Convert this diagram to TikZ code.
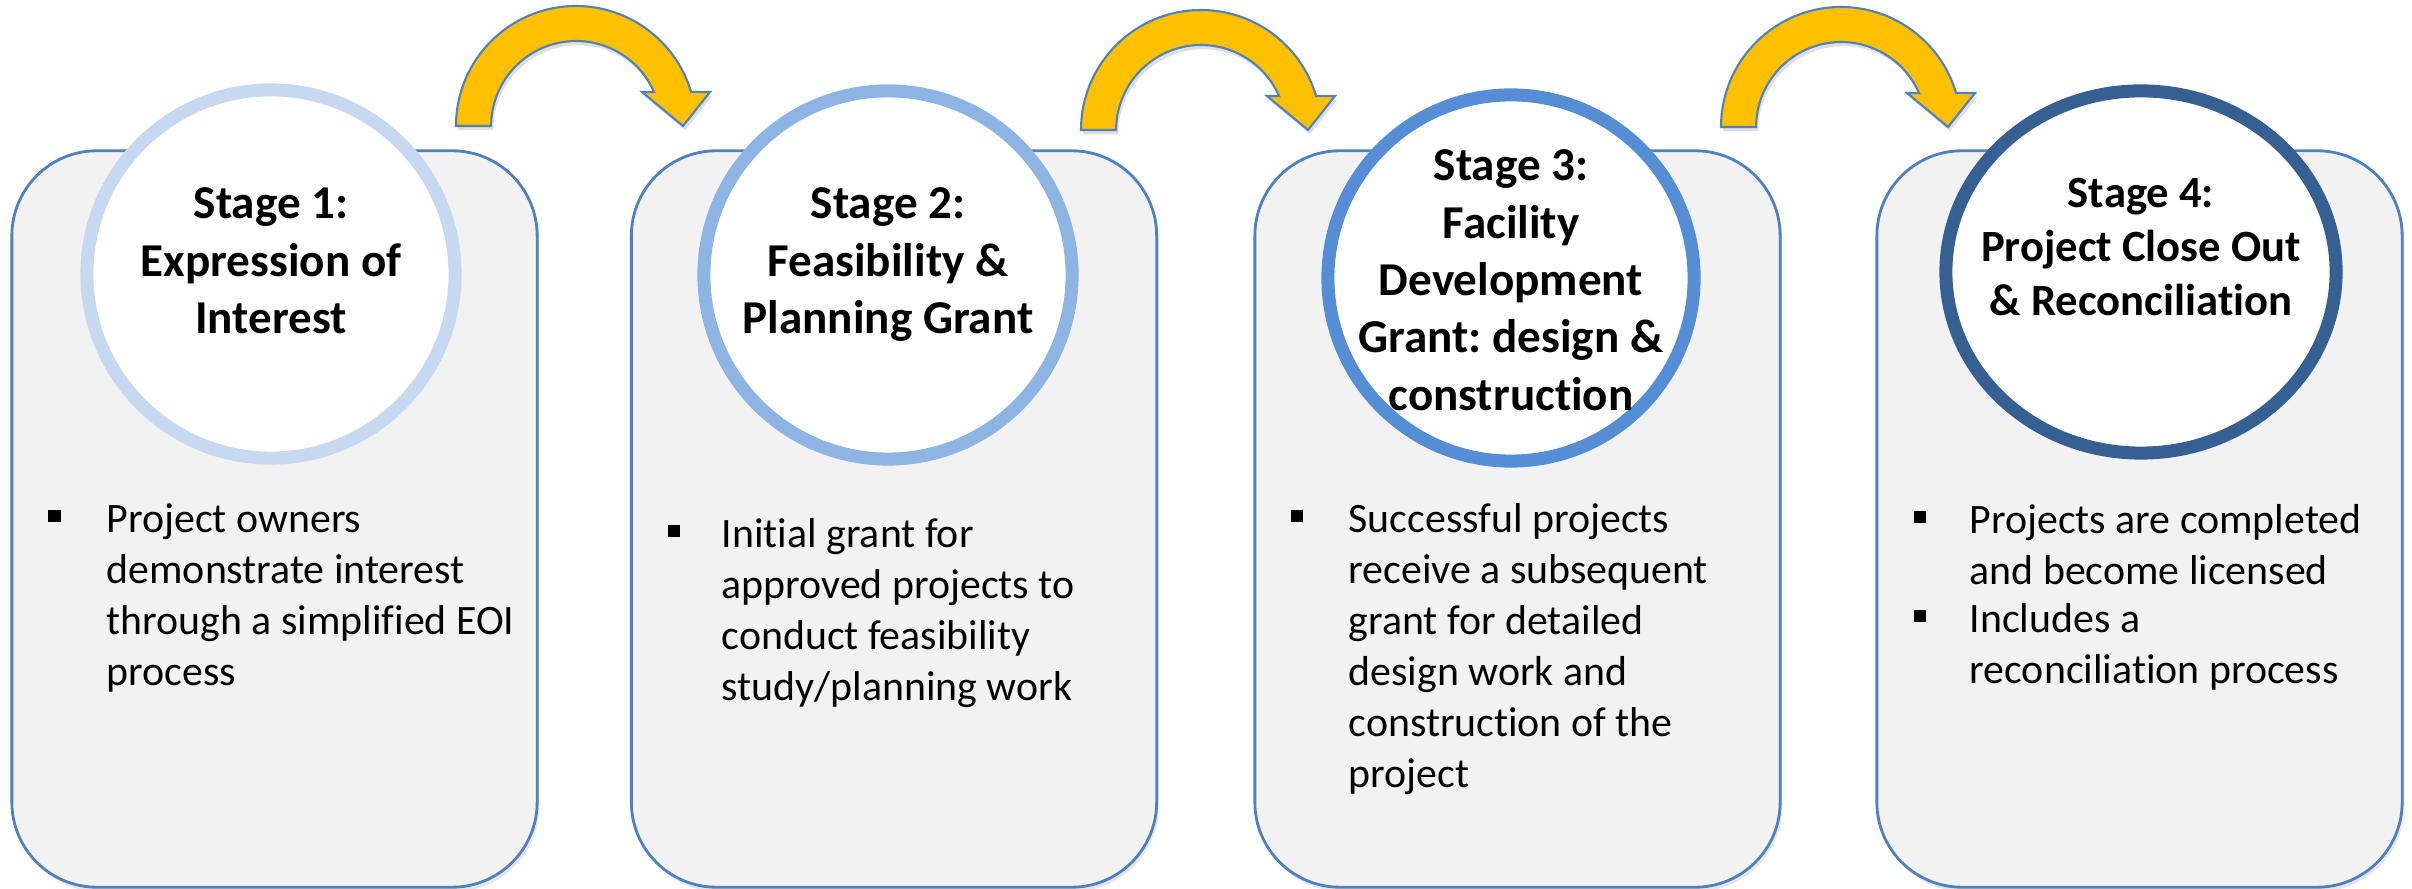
\documentclass[tikz,border=0pt]{standalone}
\usepackage{fontspec}
\setmainfont{Carlito}[Ligatures=NoCommon]
\usepackage{xcolor}
\usetikzlibrary{shapes.geometric, shadows}
\frenchspacing

\definecolor{boxfill}{HTML}{F2F2F2}
\definecolor{boxline}{HTML}{4F81BD}
\definecolor{ringone}{HTML}{C6D9F1}
\definecolor{ringtwo}{HTML}{8EB4E3}
\definecolor{ringthree}{HTML}{558ED5}
\definecolor{ringfour}{HTML}{376092}
\definecolor{hopfill}{HTML}{FFC000}

\begin{document}
\begin{tikzpicture}[x=0.01cm, y=-0.01cm]

\tikzstyle{stagebox} = [rectangle, rounded corners=0.85cm, minimum width=5.25cm, minimum height=7.36cm, draw=boxline, line width=0.8pt, fill=boxfill, drop shadow={shadow xshift=0.6pt, shadow yshift=-1.2pt, opacity=0.2}]
\tikzstyle{ring} = [circle, fill=white, line width=3.7pt, minimum size=3.68cm, inner sep=0pt, drop shadow={shadow xshift=0.8pt, shadow yshift=-1.5pt, opacity=0.2}]
\tikzstyle{title} = [align=center, inner sep=0pt, anchor=north, font=\bfseries\fontsize{13.4}{16.3}\selectfont]
\tikzstyle{body} = [align=left, inner sep=0pt, anchor=north west, font=\fontsize{11.9}{14.5}\selectfont]
\tikzstyle{bullet} = [rectangle, fill=black, minimum size=0.12cm, inner sep=0pt]
\tikzstyle{hop} = [fill=hopfill, draw=boxline, line width=0.6pt, drop shadow={shadow xshift=0.6pt, shadow yshift=-1.2pt, opacity=0.25}]

\tikzset{pics/hoparrow/.style={code={
  \draw[hop] (0,0) arc[start angle=180, end angle=343.5, radius=120] -- (254,-34) -- (227,0) -- (186,-34) -- (198,-34) arc[start angle=336.4, end angle=180, radius=85] -- cycle;
}}}

\useasboundingbox (0,0) rectangle (2412,889);

% Boxes
\node (box1) [stagebox] at (274.5,519) {};
\node (box2) [stagebox] at (894,519) {};
\node (box3) [stagebox] at (1517.5,519) {};
\node (box4) [stagebox] at (2139.5,519) {};

% Rings
\node (ring1) [ring, draw=ringone] at (271,274) {};
\node (ring2) [ring, draw=ringtwo] at (888,275) {};
\node (ring3) [ring, draw=ringthree, minimum size=3.66cm] at (1511,278) {};
\node (ring4) [ring, ellipse, draw=ringfour, minimum width=3.90cm, minimum height=3.62cm] at (2141,272) {};

% Arrows
\pic (hop1) at (456,126) {hoparrow};
\pic (hop2) at (1081,130) {hoparrow};
\pic (hop3) at (1721,127) {hoparrow};

% Titles
\node (title1) [title] at (271,178) {\strut Stage 1:\\Expression of\\Interest};
\node (title2) [title] at (888,178) {\strut Stage 2:\\Feasibility \&\\Planning Grant};
\node (title3) [title] at (1511,140) {\strut Stage 3:\\Facility\\Development\\Grant: design \&\\construction};
\node (title4) [title, font=\bfseries\fontsize{12.7}{15.4}\selectfont] at (2141,169) {\strut Stage 4:\\Project Close Out\\\& Reconciliation};

% Bullet texts
\node (dot1) [bullet] at (54.5,516) {};
\node (text1) [body] at (106,496) {\strut Project owners\\demonstrate interest\\through a simplified EOI\\process};

\node (dot2) [bullet] at (673.5,531) {};
\node (text2) [body] at (721,511) {\strut Initial grant for\\approved projects to\\conduct feasibility\\study/planning work};

\node (dot3) [bullet] at (1297,516) {};
\node (text3) [body] at (1348,496) {\strut Successful projects\\receive a subsequent\\grant for detailed\\design work and\\construction of the\\project};

\node (dot4a) [bullet] at (1920,517) {};
\node (text4a) [body] at (1969,497) {\strut Projects are completed\\and become licensed};
\node (dot4b) [bullet] at (1920,616) {};
\node (text4b) [body] at (1969,596) {\strut Includes a\\reconciliation process};

\end{tikzpicture}
\end{document}
